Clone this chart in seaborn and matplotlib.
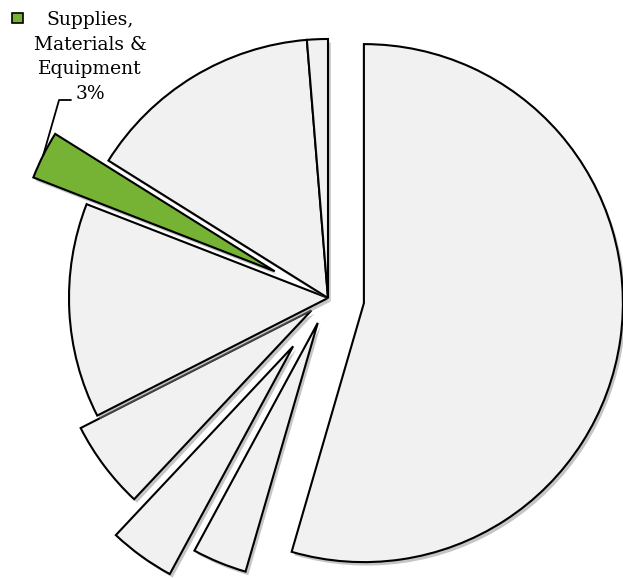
import matplotlib
matplotlib.use("Agg")
import matplotlib.pyplot as plt
import matplotlib.patheffects as pe
from matplotlib.patches import Rectangle
import numpy as np
import seaborn as sns

# Budget shares (percent), clockwise from 12 o'clock
categories = ["Salaries & Wages", "Travel", "Contractual", "Other",
              "Fringe Benefits", "Supplies, Materials & Equipment",
              "Indirect Costs", "Training"]
shares = [54.5, 3.4, 4.1, 5.5, 13.4, 3.0, 14.8, 1.3]
explode = [0.14, 0.104, 0.23, 0.08, 0.0, 0.23, 0.0, 0.0]
highlight = "Supplies, Materials & Equipment"

sns.set_theme(style="white")
plt.rcParams["font.family"] = ["DejaVu Serif", "DejaVu Sans"]

W, H = 623, 578
fig = plt.figure(figsize=(W / 100, H / 100), dpi=100)
ax = fig.add_axes([0, 0, 1, 1])

base = "#f1f1f1"
green = "#76b234"
colors = [green if c == highlight else base for c in categories]

wedges, _ = ax.pie(shares, explode=explode, colors=colors, startangle=90,
                   counterclock=False,
                   wedgeprops=dict(edgecolor="black", linewidth=1.5))
for w in wedges:
    w.set_path_effects([pe.SimplePatchShadow(offset=(2, -2.5),
                                             shadow_rgbFace=(0.55, 0.55, 0.55),
                                             alpha=0.5),
                        pe.Normal()])

# pie centre placement inside the canvas
cx, cy, r = 328, 298, 259
ax.set_xlim(-cx / r, (W - cx) / r)
ax.set_ylim(-(H - cy) / r, cy / r)
ax.axis("off")

# label for the highlighted slice
idx = categories.index(highlight)
gw = wedges[idx]
mid = np.deg2rad((gw.theta1 + gw.theta2) / 2)
tip = (gw.center[0] + gw.r * np.cos(mid), gw.center[1] + gw.r * np.sin(mid))

fig.text(90 / W, 1 - 57 / H,
         f"Supplies,\nMaterials &\nEquipment\n{shares[idx]:.0f}%",
         ha="center", va="center", fontsize=13.5, linespacing=1.47,
         color="black")
ax.annotate("", xy=tip, xycoords="data",
            xytext=(71, H - 100), textcoords="figure pixels",
            arrowprops=dict(arrowstyle="-", color="black", lw=1.3,
                            shrinkA=0, shrinkB=0,
                            connectionstyle="angle,angleA=180,angleB=74,rad=0"))
fig.add_artist(Rectangle((12 / W, 1 - 23 / H), 11 / W, 10 / H,
                         transform=fig.transFigure, facecolor=green,
                         edgecolor="black", linewidth=1.2))

fig.savefig("out.png", dpi=100)
